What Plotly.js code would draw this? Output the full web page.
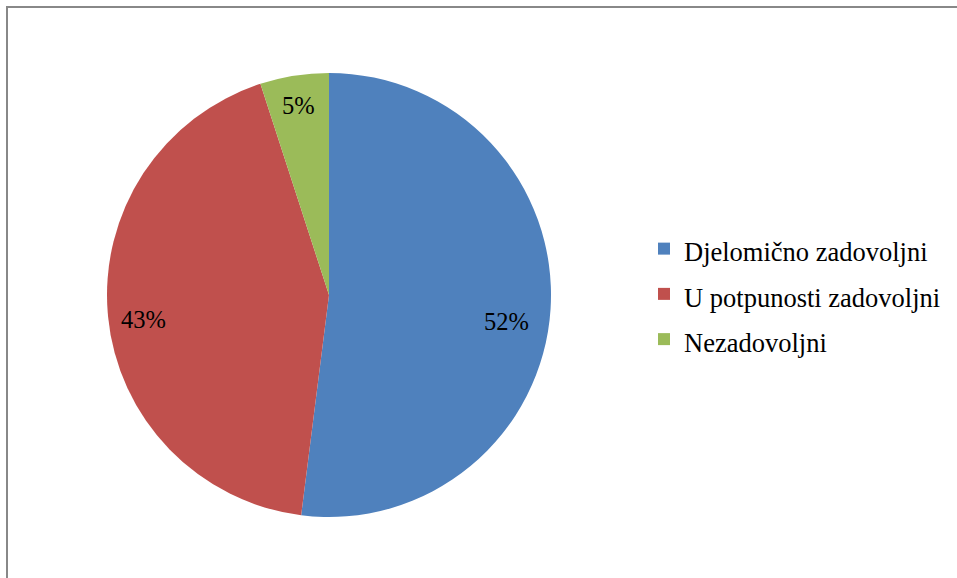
<!DOCTYPE html>
<html>
<head>
<meta charset="utf-8">
<script src="https://cdn.plot.ly/plotly-3.0.1.min.js"></script>
<style>html,body{margin:0;padding:0;background:#fff;}#chart{width:957px;height:578px;}</style>
</head>
<body>
<div id="chart"></div>
<script>
var categories = ["Djelomično zadovoljni", "U potpunosti zadovoljni", "Nezadovoljni"];
var values = [52, 43, 5];
var colors = ["#4F81BD", "#C0504D", "#9BBB59"];

var W = 957, H = 578;
var cx = 329, cy = 295, R = 222;
var FONT = "Liberation Serif";

var trace = {
  type: "pie",
  labels: categories.map(function (c) { return '<span style="font-size:26.5px">' + c + '</span>'; }),
  values: values,
  marker: { colors: colors, line: { width: 0 } },
  sort: false,
  direction: "clockwise",
  rotation: 0,
  textinfo: "none",
  hoverinfo: "label+percent",
  domain: { x: [(cx - R) / W, (cx + R) / W], y: [(H - cy - R) / H, (H - cy + R) / H] }
};

// percentage labels placed from the data's cumulative angles
var total = values.reduce(function (a, b) { return a + b; }, 0);
var annotations = [];
var cum = 0;
var radFrac = [0.8, 0.84, 0.87];
var yShift = [-15, -7, -1];
values.forEach(function (v, i) {
  var mid = (cum + v / 2) / total * 2 * Math.PI;
  cum += v;
  var r = R * radFrac[i];
  var px = cx + r * Math.sin(mid);
  var py = cy - r * Math.cos(mid);
  annotations.push({
    xref: "paper", yref: "paper",
    x: px / W, y: (H - py) / H,
    xanchor: "center", yanchor: "middle",
    yshift: yShift[i],
    showarrow: false,
    text: Math.round(v / total * 100) + "%",
    font: { family: FONT, size: 24.5, color: "#000000" }
  });
});

var layout = {
  width: W, height: H,
  margin: { l: 0, r: 0, t: 0, b: 0 },
  paper_bgcolor: "#ffffff",
  font: { family: FONT, color: "#000000" },
  showlegend: true,
  legend: {
    x: 644 / W, xanchor: "left",
    y: (H - 221) / H, yanchor: "top",
    font: { family: FONT, size: 32.5, color: "#000000" },
    bgcolor: "rgba(0,0,0,0)"
  },
  annotations: annotations,
  shapes: [
    { type: "line", xref: "paper", yref: "paper", x0: 6 / W, x1: 1, y0: (H - 7) / H, y1: (H - 7) / H, line: { color: "#888888", width: 2 } },
    { type: "line", xref: "paper", yref: "paper", x0: 7 / W, x1: 7 / W, y0: 0, y1: (H - 6) / H, line: { color: "#888888", width: 2 } }
  ]
};

Plotly.newPlot("chart", [trace], layout, { displayModeBar: false, staticPlot: true });
</script>
</body>
</html>
